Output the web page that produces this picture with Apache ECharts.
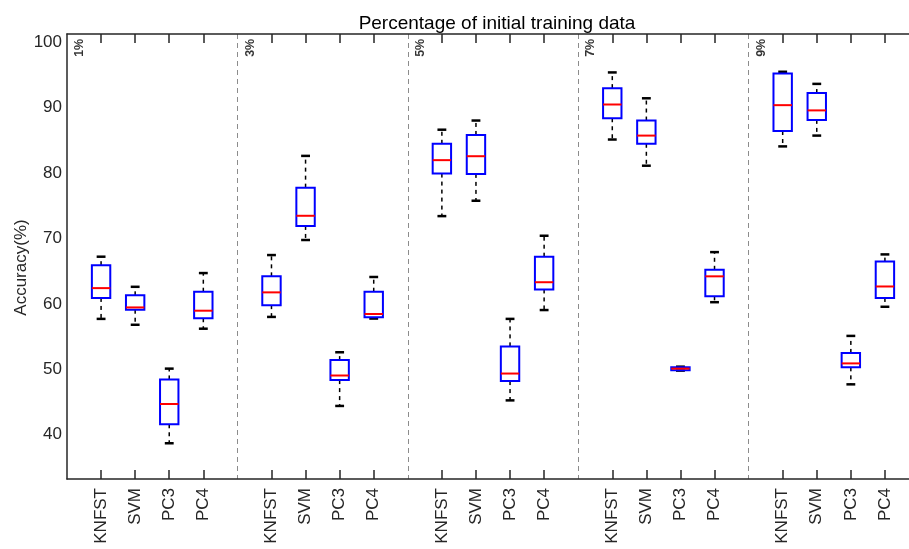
<!DOCTYPE html>
<html>
<head>
<meta charset="utf-8">
<script src="https://cdn.jsdelivr.net/npm/echarts@6/dist/echarts.min.js"></script>
<style>
    html, body { margin: 0; padding: 0; background: #fff; }
    #chart { width: 909px; height: 549px; }
</style>
</head>
<body>
<div id="chart"></div>
<script>
// 分组与方法
const groups = ['1%', '3%', '5%', '7%', '9%'];
const methods = ['KNFST', 'SVM', 'PC3', 'PC4'];

// 箱线图五数 (按组依次 KNFST, SVM, PC3, PC4)
const lowWhisker = [57.7, 56.8, 38.7, 56.2,  58.0, 69.75, 44.4, 57.75,  73.4, 75.75, 45.25, 59.05,  85.1, 81.1, 49.8, 60.25,  84.05, 85.7, 47.7, 59.55];
const lowerQuartile = [60.9, 59.1, 41.6, 57.8,  59.8, 71.9, 48.35, 57.95,  79.9, 79.85, 48.2, 62.2,  88.35, 84.45, 49.85, 61.15,  86.4, 88.1, 50.3, 60.9];
const medians = [62.4, 59.45, 44.7, 58.95,  61.75, 73.45, 49.05, 58.45,  81.95, 82.55, 49.35, 63.3,  90.45, 85.7, 50.1, 64.2,  90.35, 89.55, 50.9, 62.65];
const upperQuartile = [65.9, 61.3, 48.45, 61.85,  64.2, 77.75, 51.4, 61.85,  84.45, 85.8, 53.5, 67.2,  92.95, 88.0, 50.3, 65.2,  95.2, 92.2, 52.5, 66.45];
const highWhisker = [67.2, 62.6, 50.1, 64.7,  67.45, 82.6, 52.6, 64.1,  86.6, 88.0, 57.7, 70.4,  95.35, 91.4, 50.4, 67.9,  95.45, 93.6, 55.1, 67.55];

const yMin = 33.24, yMax = 101.22;
const groupLabelY = 99.1;

// 类别轴: 每组4个方法 + 1个分隔位
const categories = [''];
groups.forEach(function() {
    methods.forEach(function(m) { categories.push(m); });
    categories.push('');
});

const boxData = [];
groups.forEach(function(g, gi) {
    methods.forEach(function(m, mi) {
        const k = gi * 4 + mi;
        boxData.push([1 + gi * 5 + mi, lowWhisker[k], lowerQuartile[k], medians[k], upperQuartile[k], highWhisker[k]]);
    });
});
const groupLabelData = groups.map(function(g, i) { return [i * 5, groupLabelY, g]; });

const axisColor = '#262626';
const font = "'Liberation Sans', Arial, sans-serif";

function renderBox(params, api) {
    const x = api.value(0);
    const pLow = api.coord([x, api.value(1)]);
    const pQ1 = api.coord([x, api.value(2)]);
    const pMed = api.coord([x, api.value(3)]);
    const pQ3 = api.coord([x, api.value(4)]);
    const pHigh = api.coord([x, api.value(5)]);
    const band = api.size([1, 0])[0];
    const half = band * 0.27;
    const capHalf = band * 0.13;
    const cx = pMed[0];
    const dashStyle = {stroke: '#000', lineWidth: 1.5, lineDash: [4, 4], fill: null};
    const capStyle = {stroke: '#000', lineWidth: 2.5, fill: null};
    return {
        type: 'group',
        children: [
            {type: 'line', shape: {x1: cx, y1: pQ3[1], x2: cx, y2: pHigh[1]}, style: dashStyle},
            {type: 'line', shape: {x1: cx, y1: pQ1[1], x2: cx, y2: pLow[1]}, style: dashStyle},
            {type: 'line', shape: {x1: cx - capHalf, y1: pHigh[1], x2: cx + capHalf, y2: pHigh[1]}, style: capStyle},
            {type: 'line', shape: {x1: cx - capHalf, y1: pLow[1], x2: cx + capHalf, y2: pLow[1]}, style: capStyle},
            {type: 'rect', shape: {x: cx - half, y: pQ3[1], width: half * 2, height: pQ1[1] - pQ3[1]},
                style: {stroke: '#0000ff', lineWidth: 2, fill: null}},
            {type: 'line', shape: {x1: cx - half, y1: pMed[1], x2: cx + half, y2: pMed[1]},
                style: {stroke: '#ff0000', lineWidth: 2}}
        ]
    };
}

const chart = echarts.init(document.getElementById('chart'));
const tickFilter = function(index, value) { return value !== ''; };
const splitFilter = function(index) { return index > 0 && index < 25 && index % 5 === 0; };

chart.setOption({
    animation: false,
    backgroundColor: '#fff',
    title: {
        text: 'Percentage of initial training data',
        left: 492,
        top: 9,
        textAlign: 'center',
        textStyle: {fontFamily: font, fontSize: 19, fontWeight: 'normal', color: '#000'}
    },
    grid: {left: 67, top: 34, width: 852, height: 445, outerBoundsMode: 'none', containLabel: false},
    xAxis: [
        {
            type: 'category',
            data: categories,
            boundaryGap: false,
            position: 'bottom',
            axisLine: {lineStyle: {color: axisColor, width: 1.5}},
            axisTick: {inside: true, length: 9, interval: tickFilter, lineStyle: {color: axisColor, width: 1.5}},
            axisLabel: {interval: 0, rotate: 90, margin: 9, fontFamily: font, fontSize: 17, color: axisColor},
            splitLine: {show: true, interval: splitFilter, lineStyle: {color: '#8c8c8c', type: [5, 4], width: 1}}
        },
        {
            type: 'category',
            data: categories,
            boundaryGap: false,
            position: 'top',
            axisLine: {lineStyle: {color: axisColor, width: 1.5}},
            axisTick: {inside: true, length: 9, interval: tickFilter, lineStyle: {color: axisColor, width: 1.5}},
            axisLabel: {show: false},
            splitLine: {show: false}
        }
    ],
    yAxis: {
        type: 'value',
        min: yMin,
        max: yMax,
        name: 'Accuracy(%)',
        nameLocation: 'middle',
        nameGap: 37,
        nameMoveOverlap: false,
        nameTextStyle: {fontFamily: font, fontSize: 17, color: axisColor, padding: [0, 22, 0, 0]},
        axisLine: {show: true, lineStyle: {color: axisColor, width: 1.5}},
        axisTick: {inside: true, length: 9, lineStyle: {color: axisColor, width: 1.5}},
        axisLabel: {
            margin: 5,
            fontFamily: font,
            fontSize: 17,
            color: axisColor,
            formatter: function(v) { return Math.abs(v % 10) < 1e-6 ? String(v) : ''; }
        },
        splitLine: {show: false}
    },
    series: [
        {
            type: 'custom',
            renderItem: renderBox,
            encode: {x: 0, y: [1, 2, 3, 4, 5]},
            data: boxData,
            z: 3
        },
        {
            type: 'scatter',
            symbolSize: 0.1,
            itemStyle: {color: 'rgba(0,0,0,0)'},
            data: groupLabelData,
            label: {
                show: true,
                position: [12.7, 0],
                align: 'center',
                verticalAlign: 'middle',
                rotate: 90,
                formatter: function(p) { return p.data[2]; },
                fontFamily: font,
                fontSize: 12.5,
                fontWeight: 'bold',
                color: '#000'
            },
            z: 4
        }
    ]
});

window.addEventListener('resize', function() {
    chart.resize();
});
</script>
</body>
</html>
